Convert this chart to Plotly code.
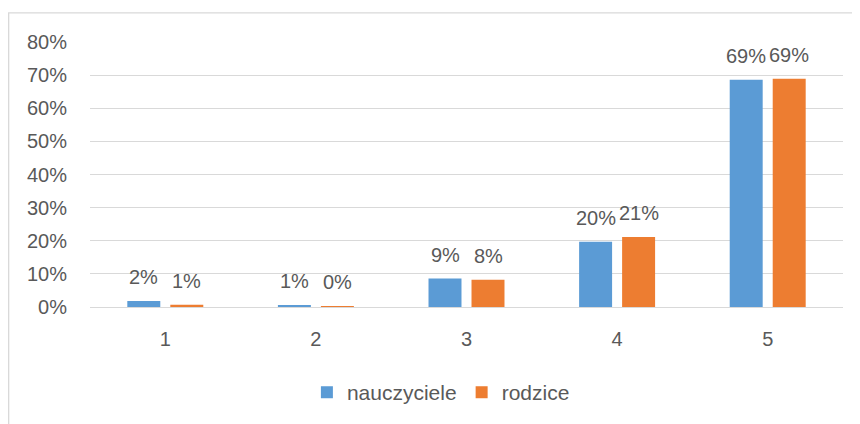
import plotly.graph_objects as go

categories = ["1", "2", "3", "4", "5"]
nauczyciele = [0.018, 0.006, 0.086, 0.197, 0.686]
rodzice = [0.007, 0.003, 0.082, 0.211, 0.689]
series_names = ["nauczyciele", "rodzice"]
colors = ["#5B9BD5", "#ED7D31"]
y_ticks = [0, 0.1, 0.2, 0.3, 0.4, 0.5, 0.6, 0.7, 0.8]

FONT = "Liberation Sans"
TXT = "#595959"
FS = 20

fig = go.Figure()
for name, vals, col in zip(series_names, [nauczyciele, rodzice], colors):
    fig.add_trace(go.Bar(x=categories, y=vals, name=name, marker_color=col,
                         marker_line_width=0))

annotations = []
for si, vals in enumerate([nauczyciele, rodzice]):
    shift = -21.5 if si == 0 else 21.5
    for i, v in enumerate(vals):
        annotations.append(dict(x=i, y=v, xref="x", yref="y", text=f"{v:.0%}",
                                showarrow=False, xshift=shift, yshift=11,
                                yanchor="bottom", xanchor="center",
                                font=dict(family=FONT, size=FS, color=TXT)))

fig.update_layout(
    width=852, height=416,
    margin=dict(l=82, r=17, t=34, b=116),
    paper_bgcolor="white", plot_bgcolor="white",
    barmode="group", bargap=0.429, bargroupgap=0.233,
    font=dict(family=FONT, size=FS, color=TXT),
    showlegend=True,
    legend=dict(orientation="h", x=0.466, xanchor="center", y=-0.318, yanchor="middle",
                font=dict(family=FONT, size=21, color=TXT), itemwidth=30),
    annotations=annotations,
    shapes=[dict(type="rect", xref="paper", yref="paper", x0=-0.108, x1=1.2,
                 y0=-0.6, y1=1.110, line=dict(color="#D9D9D9", width=1.3),
                 fillcolor="rgba(0,0,0,0)", layer="below")],
)
fig.update_xaxes(type="category", range=[-0.5, 4.5], showgrid=False, showline=True,
                 linecolor="#D9D9D9", linewidth=1.3,
                 ticks="", ticklabelstandoff=14, tickfont=dict(size=FS, color=TXT))
fig.update_yaxes(range=[0, 0.8], tickvals=y_ticks, tickformat=".0%",
                 showgrid=True, gridcolor="#D9D9D9", gridwidth=1.3,
                 zeroline=False, ticks="", ticklabelstandoff=22,
                 tickfont=dict(size=FS, color=TXT))

fig.write_html("out.html")
